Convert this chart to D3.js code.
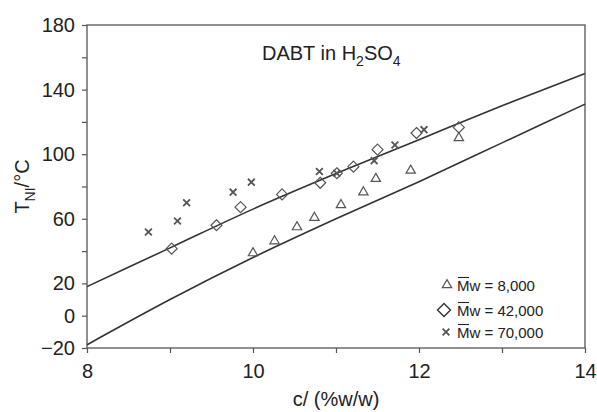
<!DOCTYPE html>
<html>
<head>
<meta charset="utf-8">
<script src="https://cdn.jsdelivr.net/npm/d3@7"></script>
<style>
  body { margin: 0; background: #fff; }
  text { font-family: "Liberation Sans", Arial, sans-serif; fill: #222; }
</style>
</head>
<body>
<div id="chart"></div>
<script>
// values
const yTickLabels = [-20, 0, 20, 60, 100, 140, 180];
const yMinorTicks = [40, 80, 120, 160];
const xTickLabels = [8, 10, 12, 14];
const xMinorTicks = [9, 11, 13];

const upperFit = [[8, 18], [9, 42], [10, 66], [11, 88], [12, 109], [13, 130], [14, 150]];
const lowerFit = [[8, -18], [9, 10], [10, 36], [11, 60], [12, 83], [13, 107], [14, 131]];

const mw8000 = [[10.0, 38.8], [10.26, 46.2], [10.53, 54.9], [10.74, 60.7], [11.06, 68.6],
  [11.33, 76.5], [11.48, 84.8], [11.9, 89.9], [12.48, 110.1]];
const mw42000 = [[9.02, 41.5], [9.56, 56], [9.85, 67.2], [10.35, 75.1], [10.81, 82.3],
  [11.01, 88.2], [11.21, 92.3], [11.5, 102.8], [11.97, 113.1], [12.48, 116.6]];
const mw70000 = [[8.74, 51.8], [9.09, 58.6], [9.2, 69.9], [9.76, 76.5], [9.98, 82.7],
  [10.8, 89.3], [11.01, 88.2], [11.46, 96], [11.71, 105.7], [12.06, 115.2]];

const legendLabels = ["8,000", "42,000", "70,000"];

const width = 597, height = 412;
const margin = {top: 25, right: 12, bottom: 64, left: 87};

const svg = d3.select("#chart").append("svg")
  .attr("width", width)
  .attr("height", height);

const x = d3.scaleLinear().domain([8, 14]).range([margin.left, width - margin.right]);
const y = d3.scaleLinear().domain([-20, 180]).range([height - margin.bottom, margin.top]);

const axisColor = "#555";

// frame
svg.append("rect")
  .attr("x", x(8)).attr("y", y(180))
  .attr("width", x(14) - x(8)).attr("height", y(-20) - y(180))
  .attr("fill", "none").attr("stroke", axisColor).attr("stroke-width", 1.3);

// y axis
const yAxis = d3.axisLeft(y).tickValues(yTickLabels.concat(yMinorTicks).sort(d3.ascending))
  .tickSize(5).tickPadding(7)
  .tickFormat(d => yTickLabels.includes(d) ? (d < 0 ? "\u2212" + Math.abs(d) : d) : "");
const gy = svg.append("g").attr("transform", `translate(${x(8)},0)`).call(yAxis);
gy.select(".domain").remove();
gy.selectAll("line").attr("stroke", axisColor).attr("stroke-width", 1.2);
gy.selectAll("text").style("font-size", "20px").attr("fill", "#222");

// x axis
const xAxis = d3.axisBottom(x).tickValues(xTickLabels.concat(xMinorTicks).sort(d3.ascending))
  .tickSize(5).tickPadding(11)
  .tickFormat(d => xTickLabels.includes(d) ? d : "");
const gx = svg.append("g").attr("transform", `translate(0,${y(-20)})`).call(xAxis);
gx.select(".domain").remove();
gx.selectAll("line").attr("stroke", axisColor).attr("stroke-width", 1.2);
gx.selectAll("text").style("font-size", "20px").attr("fill", "#222");

// axis titles
svg.append("text")
  .attr("x", (x(8) + x(14)) / 2).attr("y", 406)
  .attr("text-anchor", "middle").style("font-size", "20px")
  .text("c/ (%w/w)");

const yt = svg.append("text")
  .attr("transform", `translate(29,${y(80)}) rotate(-90)`)
  .attr("text-anchor", "middle").style("font-size", "20px");
yt.append("tspan").text("T");
yt.append("tspan").attr("dy", 6).style("font-size", "14px").text("NI");
yt.append("tspan").attr("dy", -6).text("/\u00b0C");

// title
const tt = svg.append("text").attr("x", 262).attr("y", 60).style("font-size", "20px");
tt.append("tspan").text("DABT in H");
tt.append("tspan").attr("dy", 6).style("font-size", "14px").text("2");
tt.append("tspan").attr("dy", -6).text("SO");
tt.append("tspan").attr("dy", 6).style("font-size", "14px").text("4");

// fitted curves
const line = d3.line().x(d => x(d[0])).y(d => y(d[1])).curve(d3.curveMonotoneX);
[upperFit, lowerFit].forEach(data => {
  svg.append("path").datum(data)
    .attr("d", line)
    .attr("fill", "none").attr("stroke", "#333").attr("stroke-width", 1.6);
});

const markColor = "#555";
const triangle = d3.symbol().type(d3.symbolTriangle).size(38);
const diamond = "M0,-5.5L5.5,0L0,5.5L-5.5,0Z";

function drawCross(g, cx, cy) {
  const r = 3.4;
  g.append("path")
    .attr("d", `M${cx - r},${cy - r}L${cx + r},${cy + r}M${cx + r},${cy - r}L${cx - r},${cy + r}`)
    .attr("stroke", markColor).attr("stroke-width", 1.8).attr("fill", "none");
}

const pts = svg.append("g");
pts.selectAll(".tri").data(mw8000).enter().append("path")
  .attr("class", "tri")
  .attr("d", triangle)
  .attr("transform", d => `translate(${x(d[0])},${y(d[1])})`)
  .attr("fill", "none").attr("stroke", markColor).attr("stroke-width", 1.2);

pts.selectAll(".dia").data(mw42000).enter().append("path")
  .attr("class", "dia")
  .attr("d", diamond)
  .attr("transform", d => `translate(${x(d[0])},${y(d[1])})`)
  .attr("fill", "none").attr("stroke", markColor).attr("stroke-width", 1.2);

mw70000.forEach(d => drawCross(pts, x(d[0]), y(d[1])));

// legend
const lg = svg.append("g");
const legendY = [285, 310, 332];
legendLabels.forEach((lab, i) => {
  const ly = legendY[i];
  if (i === 0) {
    lg.append("path").attr("d", triangle).attr("transform", `translate(447,${ly})`)
      .attr("fill", "none").attr("stroke", markColor).attr("stroke-width", 1.2);
  } else if (i === 1) {
    lg.append("path").attr("d", "M0,-6.5L6.5,0L0,6.5L-6.5,0Z").attr("transform", `translate(444,${ly})`)
      .attr("fill", "none").attr("stroke", "#333").attr("stroke-width", 1.4);
  } else {
    drawCross(lg, 446, ly);
  }
  lg.append("text").attr("x", 457).attr("y", ly + 5.5).style("font-size", "15px")
    .text("Mw = " + lab);
  // bar over the M
  lg.append("line")
    .attr("x1", 458).attr("x2", 469)
    .attr("y1", ly - 7.5).attr("y2", ly - 7.5)
    .attr("stroke", "#222").attr("stroke-width", 1.1);
});
</script>
</body>
</html>
